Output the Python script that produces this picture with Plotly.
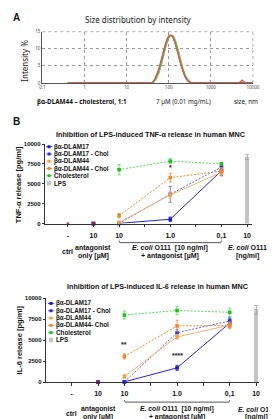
import plotly.graph_objects as go

W, H = 276, 419


def px(x):
    return x / W


def py(y):
    return 1 - y / H


# ---------------- Panel A data (DLS size distribution) ----------------
size_nm = [0.4, 1, 10, 30, 37.8, 43.8, 50.7, 58.8, 68.1, 78.8, 91.3, 105.7, 122.4,
           141.8, 164.2, 190.1, 220.2, 255.0, 295.3, 342.0, 396.1, 458.7, 1000,
           4145, 4801, 5560, 6439, 7456, 10000]
intensity_run1 = [0, 0, 0, 0, 0, 0.5, 1.9, 4.0, 6.9, 9.9, 12.5, 13.9, 13.7, 11.8, 9.0,
                  6.0, 3.4, 1.5, 0.5, 0.1, 0, 0, 0, 0, 0.2, 0.8, 0.2, 0, 0]
intensity_run2 = [0, 0, 0, 0, 0, 0.4, 1.7, 3.7, 6.6, 9.6, 12.3, 13.8, 13.8, 12.0, 9.3,
                  6.3, 3.6, 1.7, 0.6, 0.1, 0, 0, 0, 0, 0, 0.4, 0, 0, 0]
intensity_run3 = [0, 0, 0, 0, 0, 0.6, 2.1, 4.3, 7.2, 10.2, 12.8, 14.0, 13.6, 11.6, 8.8,
                  5.8, 3.2, 1.4, 0.4, 0.1, 0, 0, 0, 0, 0, 0, 0, 0, 0]
intensity_green = [0, 0, 0, 0, 0, 0.2, 1.2, 3.0, 5.7, 8.8, 11.7, 13.5, 14.0, 12.7, 10.2,
                   7.1, 4.2, 2.0, 0.7, 0.2, 0, 0, 0, 0, 0, 0, 0, 0, 0]
a_xticks = [0.1, 1, 10, 100, 1000, 10000]
a_xticklabels = ["0.1", "1", "10", "100", "1000", "10000"]
a_yticks = [0, 5, 10, 15]

# ---------------- Panel B data ----------------
cat_pos = [0, 1, 2, 3, 4, 5, 6, 7]
cat_labels = ["-", "10", "10", "", "1.0", "", "0,1", "10"]
conc_pos = [2, 4, 6]          # 10, 1.0, 0.1 µM antagonist (+ E. coli O111)
ctrl_pos = [0]
antag_pos = [1]
lps_pos = [7]
b_yticks = [0, 2500, 5000, 7500, 10000]
b_yticklabels = ["0", "2500", "5000", "7500", "10000"]

series_names = ["βα-DLAM17", "βα-DLAM17 - Chol", "βα-DLAM44", "βα-DLAM44 - Chol", "Cholesterol"]
il6_legend_names = ["βα-DLAM17", "βα-DLAM17 - Chol", "βα-DLAM44", "βα-DLAM44- Chol", "Cholesterol"]

# TNF-alpha [pg/ml]
tnf_dlam17 = [30, 550, 6650]
tnf_dlam17_err = [40, 280, 600]
tnf_dlam17_chol = [30, 3680, 7100]
tnf_dlam17_chol_err = [40, 1000, 350]
tnf_dlam44 = [150, 3600, 6450]
tnf_dlam44_err = [100, 450, 500]
tnf_dlam44_chol = [1000, 5780, 6600]
tnf_dlam44_chol_err = [280, 560, 450]
tnf_chol = [6780, 7850, 7520]
tnf_chol_err = [650, 300, 150]
tnf_lps = [8350]
tnf_lps_err = [350]
tnf_ctrl = [0]
tnf_antag = [0, 0, 0, 0, 0]

# IL-6 [pg/ml]
il6_dlam17 = [30, 1700, 7050]
il6_dlam17_err = [40, 300, 500]
il6_dlam17_chol = [30, 5900, 7300]
il6_dlam17_chol_err = [40, 400, 400]
il6_dlam44 = [660, 5400, 6800]
il6_dlam44_err = [250, 300, 350]
il6_dlam44_chol = [3070, 6700, 6770]
il6_dlam44_chol_err = [300, 680, 400]
il6_chol = [8000, 8550, 8330]
il6_chol_err = [480, 500, 500]
il6_lps = [8640]
il6_lps_err = [560]
il6_antag = [0, 0, 0, 0, 0]

# ---------------- styles ----------------
col_line = ["#2323d2", "#6a62e6", "#f6b46e", "#ee8c2c", "#5ad85a"]
col_mark = ["#1c1cd0", "#2a2ad8", "#f0a04a", "#ec8a2a", "#20c020"]
dash_sty = ["solid", "2px,1.5px", "solid", "2px,1.5px", "2px,1.5px"]
lps_color = "#c4c4c4"
BOLD = "Liberation Sans"

fig = go.Figure()

# Panel A traces
for ys, c, w in [(intensity_green, "#46de46", 1.3), (intensity_run2, "#d9837c", 1.2),
                 (intensity_run3, "#b5524c", 1.2), (intensity_run1, "#c8645e", 1.2)]:
    fig.add_trace(go.Scatter(x=size_nm, y=ys, mode="lines", xaxis="x", yaxis="y",
                             line=dict(color=c, width=w, shape="spline", smoothing=0.6),
                             showlegend=False, cliponaxis=True))


def add_panel(xa, ya, vals, errs, antag, lps, lps_err, ctrl=None):
    for i in range(5):
        fig.add_trace(go.Scatter(
            x=conc_pos, y=vals[i], xaxis=xa, yaxis=ya, mode="lines+markers",
            line=dict(color=col_line[i], width=1, dash=dash_sty[i]),
            marker=dict(symbol="square", size=3.6, color=col_mark[i]),
            error_y=dict(type="data", array=errs[i], color=col_line[i], thickness=0.8, width=1.6),
            showlegend=False, cliponaxis=False))
    for i in [4, 2, 3, 0, 1]:
        fig.add_trace(go.Scatter(
            x=antag_pos, y=[antag[i]], xaxis=xa, yaxis=ya, mode="markers",
            marker=dict(symbol="square", size=3.6, color=col_mark[i], opacity=0.6),
            showlegend=False, cliponaxis=False))
    fig.add_trace(go.Scatter(x=antag_pos, y=[antag[0]], xaxis=xa, yaxis=ya, mode="markers",
                             marker=dict(symbol="square", size=3.6, color="#8a2060", opacity=0.8),
                             showlegend=False, cliponaxis=False))
    if ctrl is not None:
        fig.add_trace(go.Scatter(x=ctrl_pos, y=ctrl, xaxis=xa, yaxis=ya, mode="markers",
                                 marker=dict(symbol="square", size=2.5, color="#e04040"),
                                 showlegend=False, cliponaxis=False))
    fig.add_trace(go.Bar(x=lps_pos, y=lps, xaxis=xa, yaxis=ya, width=0.16,
                         marker=dict(color=lps_color, line=dict(width=0)),
                         error_y=dict(type="data", array=lps_err, color="#a8a8a8", thickness=0.8, width=1.6),
                         showlegend=False))


add_panel("x2", "y2",
          [tnf_dlam17, tnf_dlam17_chol, tnf_dlam44, tnf_dlam44_chol, tnf_chol],
          [tnf_dlam17_err, tnf_dlam17_chol_err, tnf_dlam44_err, tnf_dlam44_chol_err, tnf_chol_err],
          tnf_antag, tnf_lps, tnf_lps_err, ctrl=tnf_ctrl)
add_panel("x3", "y3",
          [il6_dlam17, il6_dlam17_chol, il6_dlam44, il6_dlam44_chol, il6_chol],
          [il6_dlam17_err, il6_dlam17_chol_err, il6_dlam44_err, il6_dlam44_chol_err, il6_chol_err],
          il6_antag, il6_lps, il6_lps_err)

axis_col = "#333333"
bx = dict(showline=True, linecolor=axis_col, linewidth=1.3, ticks="outside", ticklen=2.5,
          tickwidth=1, tickcolor=axis_col, showgrid=False, zeroline=False,
          tickvals=cat_pos, ticktext=cat_labels,
          tickfont=dict(family=BOLD, size=7, color="#111", weight="bold"),
          ticklabelstandoff=2)
by = dict(showline=True, linecolor=axis_col, linewidth=1.3, ticks="outside", ticklen=2.5,
          tickwidth=1, tickcolor=axis_col, showgrid=False, zeroline=False, range=[0, 10000],
          tickvals=b_yticks, ticktext=b_yticklabels,
          tickfont=dict(family=BOLD, size=6, color="#111", weight="bold"))

fig.update_layout(
    width=W, height=H, margin=dict(l=0, r=0, t=0, b=0),
    paper_bgcolor="white", plot_bgcolor="white", bargap=0,
    font=dict(family=BOLD, color="#111"),
    xaxis=dict(domain=[px(32.5), px(251)], type="log", range=[-1, 4], anchor="y",
               tickvals=a_xticks, ticktext=a_xticklabels,
               tickfont=dict(family="Noto Sans", size=4.5, color="#444"),
               showgrid=True, gridcolor="#9a9a9a", griddash="dot", gridwidth=0.8,
               showline=True, linecolor="#555", linewidth=1, zeroline=False, ticks=""),
    yaxis=dict(domain=[py(73), py(21)], range=[0, 15], anchor="x", tickvals=a_yticks,
               tickfont=dict(family="Noto Sans", size=4.5, color="#444"),
               showgrid=True, gridcolor="#9a9a9a", griddash="dot", gridwidth=0.8,
               showline=True, linecolor="#555", linewidth=1, zeroline=False, ticks=""),
    xaxis2=dict(domain=[px(35.7), px(250)], range=[-0.877, 7.19], anchor="y2", **bx),
    yaxis2=dict(domain=[py(215.7), py(135)], anchor="x2", **by),
    xaxis3=dict(domain=[px(36.7), px(257)], range=[-0.963, 7.1], anchor="y3", **bx),
    yaxis3=dict(domain=[py(376.5), py(291.5)], anchor="x3", **by),
)

shapes = []
# dotted frame top/right for panel A
shapes.append(dict(type="line", xref="x domain", yref="y domain", x0=0, x1=1, y0=1, y1=1,
                   line=dict(color="#9a9a9a", width=0.8, dash="dot")))
shapes.append(dict(type="line", xref="x domain", yref="y domain", x0=1, x1=1, y0=0, y1=1,
                   line=dict(color="#9a9a9a", width=0.8, dash="dot")))

ann = []


def text(x, y, s, size, family=BOLD, bold=True, xanchor="center", yanchor="middle",
         xref="paper", yref="paper", angle=0, color="#111"):
    ann.append(dict(x=x, y=y, xref=xref, yref=yref, text=s, showarrow=False,
                    xanchor=xanchor, yanchor=yanchor, textangle=angle, borderpad=0,
                    font=dict(family=family, size=size, color=color,
                              weight="bold" if bold else "normal")))


# Panel A texts
text(px(1.5), py(7), "A", 10, xanchor="left")
text(px(132), py(8.5), "Size distribution by intensity", 8, family="Noto Sans", bold=False, color="#222")
text(px(14), py(50), "Intensity %", 8, family="Noto Sans", bold=False, angle=-90, color="#222")
text(px(26), py(92), "βα-DLAM44 – cholesterol, 1:1", 6.3, family="Noto Sans", xanchor="left")
text(px(149), py(92), "7 µM (0.01 mg/mL)", 6.2, family="Noto Sans", bold=False, xanchor="left", color="#222")
text(px(230), py(92), "size, nm", 6.2, family="Noto Sans", bold=False, xanchor="left", color="#222")

# Panel B texts
text(px(1.5), py(112), "B", 10, xanchor="left")
text(px(145), py(125), "Inhibition of LPS-induced TNF-α release in human MNC", 7.2)
text(px(8), py(176), "TNF-α release [pg/ml]", 7.5, angle=-90)
text(px(152), py(280), "Inhibition of LPS-induced IL-6 release in human MNC", 7.2)
text(px(8.5), py(334), "IL-6 release [pg/ml]", 7.5, angle=-90)

for xa, y_br, y_l1, y_l2, y_ctrl, fs in [("x2", 235, 240, 248.5, 243.5, 7),
                                         ("x3", 396.8, 404.2, 412.2, 408.2, 6.8)]:
    text(ctrl_pos[0], py(y_ctrl), "ctrl", fs, xref=xa)
    text(antag_pos[0], py(y_l1), "antagonist", fs, xref=xa)
    text(antag_pos[0], py(y_l2), "only [µM]", fs, xref=xa)
    text(4, py(y_l1), "<i>E. coli</i> O111  [10 ng/ml]", fs, xref=xa)
    text(4, py(y_l2), "+ antagonist [µM]", fs, xref=xa)
    if xa == "x2":
        text(lps_pos[0], py(y_l1), "<i>E. coli</i> O111", fs, xref=xa)
    else:
        text(px(275.5), py(y_l1), "<i>E. coli</i> O111", fs, xanchor="right")
    text(lps_pos[0], py(y_l2), "[ng/ml]", fs, xref=xa)
    shapes.append(dict(type="path", xref=xa, yref="paper",
                       path=f"M 2,{py(y_br - 2)} L 2.03,{py(y_br)} L 5.97,{py(y_br)} L 6,{py(y_br - 2)}",
                       line=dict(color="#444", width=0.9)))

# significance marks
text(4, 7000, "*", 7, xref="x2", yref="y2")
text(2, 4500, "**", 7, xref="x3", yref="y3")
text(4, 3200, "****", 7, xref="x3", yref="y3")

# manual legends
for names, ys, mx, tx in [
    (series_names, [137.7, 145.1, 152.4, 159.8, 167.1, 174.5], 39.5, 44),
    (il6_legend_names, [296.7, 304.1, 311.5, 318.9, 326.3, 333.7], 41.5, 46),
]:
    for i, nm in enumerate(names + ["LPS"]):
        yy = ys[i]
        if i < 5:
            shapes.append(dict(type="line", xref="paper", yref="paper", x0=px(mx - 3), x1=px(mx + 3),
                               y0=py(yy), y1=py(yy), line=dict(color=col_line[i], width=1)))
            shapes.append(dict(type="rect", xref="paper", yref="paper", x0=px(mx - 1.5), x1=px(mx + 1.5),
                               y0=py(yy - 1.5), y1=py(yy + 1.5), fillcolor=col_mark[i], line=dict(width=0)))
        else:
            shapes.append(dict(type="rect", xref="paper", yref="paper", x0=px(mx - 2.3), x1=px(mx + 2.3),
                               y0=py(yy - 2.3), y1=py(yy + 2.3), fillcolor=lps_color, line=dict(width=0)))
        text(px(tx), py(yy), nm, 6.3, xanchor="left")

fig.update_layout(annotations=ann, shapes=shapes)
fig.write_html("out.html")
